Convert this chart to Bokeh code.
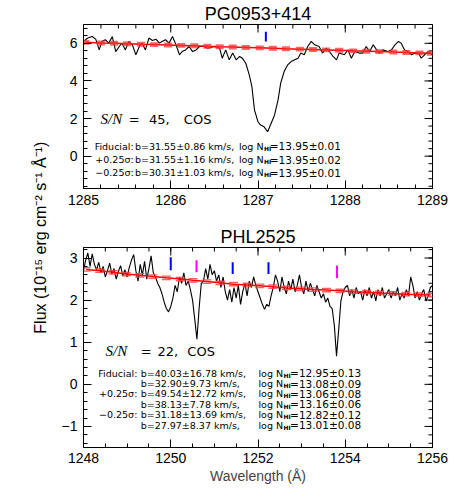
import math
from bokeh.plotting import figure
from bokeh.layouts import column, row
from bokeh.models import Range1d, SingleIntervalTicker, Label, ColumnDataSource
from bokeh.embed import file_html
from bokeh.resources import INLINE
from bokeh.core.properties import value

FONT = "Liberation Sans"
TFONT = "DejaVu Sans"

# ---------------- PG0953+414 (top panel) ----------------
title1 = "PG0953+414"
wave1 = [1285.00,1285.05,1285.10,1285.14,1285.18,1285.21,1285.25,1285.29,1285.33,1285.37,
         1285.41,1285.44,1285.48,1285.52,1285.56,1285.60,1285.64,1285.67,1285.71,1285.75,
         1285.79,1285.83,1285.87,1285.90,1285.94,1285.98,1286.02,1286.06,1286.10,1286.13,
         1286.17,1286.21,1286.25,1286.29,1286.33,1286.38,1286.42,1286.50,1286.56,1286.59,
         1286.63,1286.67,1286.71,1286.75,1286.79,1286.82,1286.86,1286.90,1286.93,1286.96,
         1287.00,1287.03,1287.07,1287.11,1287.15,1287.19,1287.23,1287.26,1287.30,1287.34,
         1287.38,1287.42,1287.46,1287.49,1287.53,1287.57,1287.61,1287.65,1287.70,1287.74,
         1287.78,1287.82,1287.86,1287.90,1287.93,1287.99,1288.03,1288.07,1288.11,1288.16,
         1288.20,1288.24,1288.28,1288.32,1288.36,1288.39,1288.43,1288.49,1288.53,1288.57,
         1288.61,1288.64,1288.68,1288.72,1288.76,1288.80,1288.84,1288.87,1288.91,1288.95,
         1289.00]
flux1 = [6.10,6.28,6.36,6.22,5.65,6.10,6.19,6.01,6.36,5.56,
         5.83,6.01,5.65,6.10,5.92,5.39,5.83,6.01,5.65,6.28,
         6.15,6.22,6.01,6.10,6.19,6.01,6.36,5.92,5.39,5.56,
         5.65,5.83,5.56,5.65,5.83,5.83,5.74,5.83,5.74,5.21,
         5.65,5.12,5.48,5.12,5.30,5.21,4.94,4.32,3.70,2.45,
         1.83,1.65,1.56,1.30,1.74,2.19,2.99,3.88,4.50,4.85,
         5.03,5.12,5.21,5.48,5.39,5.83,6.10,5.92,5.83,5.48,
         5.74,5.56,5.30,5.12,5.48,5.39,5.65,5.21,5.56,5.48,
         5.48,5.83,5.56,5.92,5.65,5.48,5.65,5.56,5.65,5.92,
         6.10,6.01,5.65,5.56,5.39,5.48,5.48,5.21,5.39,5.56,
         5.39]
cont1_wave = [1285.02,1285.20,1285.35,1285.50,1285.66,1285.81,1285.97,1286.12,1286.27,1286.42,
              1286.56,1286.71,1286.86,1287.02,1287.17,1287.32,1287.48,1287.63,1287.78,1287.93,
              1288.09,1288.24,1288.39,1288.55,1288.70,1288.85,1288.98]
cont1_flux = [6.05,6.02,6.00,5.98,5.95,5.93,5.91,5.89,5.87,5.84,
              5.82,5.80,5.78,5.76,5.74,5.71,5.69,5.67,5.65,5.63,
              5.60,5.58,5.56,5.54,5.51,5.49,5.47]
cont1_err = 0.13
lines1_wave = [1287.09]
lines1_lo = [6.10]
lines1_hi = [6.62]
lines1_color = ["#0000ff"]
sn1 = "45,"
rows1_label = ["Fiducial:", "+0.25\u03c3:", "\u22120.25\u03c3:"]
rows1_b = ["b=31.55\u00b10.86 km/s,", "b=31.55\u00b11.16 km/s,", "b=30.31\u00b11.03 km/s,"]
rows1_N = ["=13.95\u00b10.01", "=13.95\u00b10.02", "=13.95\u00b10.01"]
rows1_y = [0.53, -0.18, -0.89]
xticks1 = [1285, 1286, 1287, 1288, 1289]
yticks1 = [0, 2, 4, 6]

# ---------------- PHL2525 (bottom panel) ----------------
title2 = "PHL2525"
wave2 = [1248.00,1248.05,1248.10,1248.15,1248.20,1248.25,1248.30,1248.35,1248.40,1248.45,
         1248.50,1248.55,1248.60,1248.65,1248.70,1248.75,1248.80,1248.85,1248.90,1248.95,
         1249.00,1249.05,1249.10,1249.15,1249.20,1249.25,1249.30,1249.35,1249.40,1249.45,
         1249.50,1249.55,1249.60,1249.65,1249.70,1249.75,1249.80,1249.85,1249.90,1249.95,
         1250.00,1250.05,1250.10,1250.15,1250.20,1250.25,1250.30,1250.35,1250.40,1250.45,
         1250.50,1250.55,1250.60,1250.65,1250.70,1250.75,1250.80,1250.85,1250.90,1250.95,
         1251.00,1251.05,1251.10,1251.15,1251.20,1251.25,1251.30,1251.35,1251.40,1251.45,
         1251.50,1251.55,1251.60,1251.65,1251.70,1251.75,1251.80,1251.85,1251.90,1251.95,
         1252.00,1252.05,1252.10,1252.15,1252.20,1252.25,1252.30,1252.35,1252.40,1252.45,
         1252.50,1252.55,1252.60,1252.65,1252.70,1252.75,1252.80,1252.85,1252.90,1252.95,
         1253.00,1253.05,1253.10,1253.15,1253.20,1253.25,1253.30,1253.35,1253.40,1253.45,
         1253.50,1253.55,1253.60,1253.65,1253.70,1253.75,1253.80,1253.85,1253.90,1253.95,
         1254.00,1254.05,1254.10,1254.15,1254.20,1254.25,1254.30,1254.35,1254.40,1254.45,
         1254.50,1254.55,1254.60,1254.65,1254.70,1254.75,1254.80,1254.85,1254.90,1254.95,
         1255.00,1255.05,1255.10,1255.15,1255.20,1255.25,1255.30,1255.35,1255.40,1255.45,
         1255.50,1255.55,1255.60,1255.65,1255.70,1255.75,1255.80,1255.85,1255.90,1255.95,
         1256.00]
flux2 = [2.70,2.95,3.12,2.80,3.10,2.85,2.72,2.90,2.65,2.80,2.55,2.70,2.88,2.62,2.75,2.50,2.68,2.82,2.58,2.72,
         2.55,2.78,2.95,3.08,2.70,2.45,2.85,2.60,2.92,2.50,2.75,3.05,2.65,2.55,2.40,2.30,2.15,1.95,1.80,1.72,
         1.85,2.05,2.35,2.20,2.55,2.40,2.65,2.35,2.45,2.25,2.00,1.55,1.07,1.80,2.40,2.45,2.75,2.50,2.85,2.60,
         2.70,2.45,2.60,2.30,2.55,2.20,2.00,2.25,1.95,2.30,2.05,2.35,1.90,2.20,2.40,2.10,2.45,2.30,2.55,2.35,
         2.20,2.05,1.90,1.78,1.90,1.85,2.10,2.30,2.60,2.45,2.20,2.55,2.30,2.15,2.45,2.25,2.50,2.20,2.35,2.60,
         2.30,2.15,2.45,2.20,2.40,2.25,2.10,2.35,2.20,2.05,2.15,1.95,2.05,1.85,1.80,1.40,0.67,1.30,1.98,2.20,
         2.30,2.35,2.10,2.25,2.05,2.30,2.15,2.20,2.00,2.25,2.10,2.30,2.05,2.20,1.98,2.25,2.10,2.30,2.05,2.15,
         2.25,2.05,2.20,2.10,2.30,2.00,2.15,2.05,2.25,2.10,2.55,2.35,2.05,2.20,2.00,2.15,2.25,1.98,2.10,2.30,
         2.35]
cont2_wave = [1248.06,1248.37,1248.68,1248.98,1249.29,1249.59,1249.90,1250.22,1250.51,1250.83,
              1251.13,1251.44,1251.75,1252.04,1252.34,1252.65,1252.96,1253.26,1253.57,1253.88,
              1254.18,1254.49,1254.78,1255.08,1255.39,1255.69,1255.96]
cont2_flux = [2.73,2.70,2.66,2.62,2.59,2.56,2.53,2.50,2.47,2.44,
              2.41,2.38,2.36,2.34,2.32,2.29,2.27,2.25,2.24,2.22,
              2.20,2.19,2.17,2.16,2.14,2.13,2.12]
cont2_err = 0.04
lines2_wave = [1250.00, 1250.59, 1251.42, 1252.24, 1253.81]
lines2_lo = [2.71, 2.66, 2.62, 2.62, 2.52]
lines2_hi = [3.02, 2.95, 2.90, 2.90, 2.82]
lines2_color = ["#0000ff", "#ff00ff", "#0000ff", "#0000ff", "#ff00ff"]
sn2 = "22,"
rows2_label = ["Fiducial:", "", "+0.25\u03c3:", "", "\u22120.25\u03c3:", ""]
rows2_b = ["b=40.03\u00b116.78 km/s,", "b=32.90\u00b19.73 km/s,", "b=49.54\u00b112.72 km/s,",
           "b=38.13\u00b17.78 km/s,", "b=31.18\u00b113.69 km/s,", "b=27.97\u00b18.37 km/s,"]
rows2_N = ["=12.95\u00b10.13", "=13.08\u00b10.09", "=13.06\u00b10.08",
           "=13.16\u00b10.06", "=12.82\u00b10.12", "=13.01\u00b10.08"]
rows2_y = [0.26, 0.015, -0.22, -0.476, -0.72, -0.97]
xticks2 = [1248, 1250, 1252, 1254, 1256]
yticks2 = [-1, 0, 1, 2, 3]

ylabel = "Flux (10\u207b\u00b9\u2075 erg cm\u207b\u00b2 s\u207b\u00b9 \u00c5\u207b\u00b9)"
xlabel = "Wavelength (\u00c5)"


def make_panel(title, xr, yr, xint, xminor, yint, yminor, height, mb_top, mb_bottom):
    p = figure(width=402, height=height, x_range=Range1d(*xr), y_range=Range1d(*yr),
               toolbar_location=None, output_backend="svg",
               min_border_left=30, min_border_right=23, min_border_top=mb_top, min_border_bottom=mb_bottom)
    p.title.text = title
    p.title.align = "center"
    p.title.text_font = FONT
    p.title.text_font_size = "18px"
    p.title.text_font_style = "normal"
    p.title.text_color = "black"
    p.title.standoff = 2
    p.xgrid.visible = False
    p.ygrid.visible = False
    p.outline_line_color = "black"
    p.outline_line_width = 1
    xt = SingleIntervalTicker(interval=xint, num_minor_ticks=xminor)
    yt = SingleIntervalTicker(interval=yint, num_minor_ticks=yminor)
    p.below[0].ticker = xt
    p.left[0].ticker = yt
    for ax in (p.below[0], p.left[0]):
        ax.axis_line_color = "black"
        ax.major_tick_line_color = "black"
        ax.minor_tick_line_color = "black"
        ax.major_tick_in = 8
        ax.major_tick_out = 0
        ax.minor_tick_in = 4
        ax.minor_tick_out = 0
        ax.major_label_text_font = FONT
        ax.major_label_text_font_size = "14px"
        ax.major_label_text_color = "black"
    p.below[0].major_label_standoff = 6
    p.left[0].major_label_standoff = 6
    return p


def mirror_ticks(p, xr, yr, xmajor, xstep, ymajor, ystep):
    # ticks on the top and right frame edges (half of each dash is clipped by the frame)
    xmin_ticks = [round(xmajor[0] + xstep * k, 3) for k in range(int(round((xmajor[-1] - xmajor[0]) / xstep)) + 1)]
    y0 = ymajor[0]
    ymin_ticks = [round(y0 + ystep * k, 3) for k in range(-20, 60) if yr[0] < y0 + ystep * k < yr[1]]
    p.dash(x=xmajor, y=[yr[1]] * len(xmajor), angle=math.pi / 2, size=16, line_color="black", line_width=1)
    p.dash(x=xmin_ticks, y=[yr[1]] * len(xmin_ticks), angle=math.pi / 2, size=8, line_color="black", line_width=1)
    p.dash(x=[xr[1]] * len(ymajor), y=ymajor, angle=0, size=16, line_color="black", line_width=1)
    p.dash(x=[xr[1]] * len(ymin_ticks), y=ymin_ticks, angle=0, size=8, line_color="black", line_width=1)


def add_text(p, x, y, text, size="9.5px", align="left", font=TFONT, style="normal"):
    src = ColumnDataSource(dict(x=x, y=y, t=text))
    p.text(x="x", y="y", text="t", source=src, text_font=value(font), text_font_size=size,
           text_align=align, text_baseline="middle", text_color="black", text_font_style=style)


# ---- top panel
xr1, yr1 = (1285, 1289), (-1.72, 7.0)
p1 = make_panel(title1, xr1, yr1, 1, 5, 2, 5, 220, 24, 32)
mirror_ticks(p1, xr1, yr1, xticks1, 0.2, yticks1, 0.4)
p1.line(wave1, flux1, color="black", line_width=1.1)
p1.line(cont1_wave, cont1_flux, color="#ff0000", line_width=1.5)
p1.rect(x=cont1_wave, y=cont1_flux, width=8, height=2 * cont1_err, width_units="screen",
        fill_color="#ff3030", fill_alpha=0.75, line_color=None)
p1.segment(x0=lines1_wave, y0=lines1_lo, x1=lines1_wave, y1=lines1_hi, color=lines1_color, line_width=2)
n1 = len(rows1_y)
add_text(p1, [1285.575] * n1, rows1_y, rows1_label, align="right")
add_text(p1, [1285.59] * n1, rows1_y, rows1_b)
add_text(p1, [1287.063] * n1, rows1_y, ["log N"] * n1, align="right")
add_text(p1, [1287.069] * n1, [y - 0.11 for y in rows1_y], ["HI"] * n1, size="6px", style="bold")
add_text(p1, [1287.135] * n1, rows1_y, rows1_N, size="10.5px")
add_text(p1, [1285.195], [1.97], ["S/N"], size="15px", font="Liberation Serif", style="italic")
add_text(p1, [1285.52], [1.97], ["="], size="13px")
add_text(p1, [1285.75], [1.97], [sn1], size="13px")
add_text(p1, [1286.15], [1.97], ["COS"], size="13px")

# ---- bottom panel
xr2, yr2 = (1248, 1256), (-1.5, 3.25)
p2 = make_panel(title2, xr2, yr2, 2, 4, 1, 5, 269, 27, 42)
mirror_ticks(p2, xr2, yr2, xticks2, 0.5, yticks2, 0.2)
p2.below[0].major_label_standoff = 5
p2.below[0].axis_label = xlabel
p2.below[0].axis_label_text_font = FONT
p2.below[0].axis_label_text_font_size = "14px"
p2.below[0].axis_label_text_font_style = "normal"
p2.below[0].axis_label_standoff = 2
p2.line(wave2, flux2, color="black", line_width=1.1)
p2.line(cont2_wave, cont2_flux, color="#ff0000", line_width=1.5)
p2.dash(x=cont2_wave, y=[c + cont2_err for c in cont2_flux], size=9, line_color="#ff4040",
        line_alpha=0.85, line_width=1.4)
p2.dash(x=cont2_wave, y=[c - cont2_err for c in cont2_flux], size=9, line_color="#ff4040",
        line_alpha=0.85, line_width=1.4)
p2.segment(x0=lines2_wave, y0=lines2_lo, x1=lines2_wave, y1=lines2_hi, color=lines2_color, line_width=2)
n2 = len(rows2_y)
add_text(p2, [1249.234] * n2, rows2_y, rows2_label, align="right")
add_text(p2, [1249.31] * n2, rows2_y, rows2_b)
add_text(p2, [1252.575] * n2, rows2_y, ["log N"] * n2, align="right")
add_text(p2, [1252.586] * n2, [y - 0.05 for y in rows2_y], ["HI"] * n2, size="6px", style="bold")
add_text(p2, [1252.736] * n2, rows2_y, rows2_N, size="10.5px")
add_text(p2, [1248.506], [0.79], ["S/N"], size="15px", font="Liberation Serif", style="italic")
add_text(p2, [1249.31], [0.79], ["="], size="13px")
add_text(p2, [1249.694], [0.79], [sn2], size="13px")
add_text(p2, [1250.38], [0.79], ["COS"], size="13px")

# ---- shared y label
H = 220 + 269
lab = figure(width=53, height=H, x_range=Range1d(0, 1), y_range=Range1d(0, 1),
             toolbar_location=None, output_backend="svg", x_axis_location=None, y_axis_location=None,
             min_border=0)
lab.outline_line_color = None
lab.xgrid.visible = False
lab.ygrid.visible = False
lab.add_layout(Label(x=0.75, y=0.515, text=ylabel, angle=math.pi / 2, text_align="center",
                     text_baseline="middle", text_font=FONT, text_font_size="16px", text_color="black"))

layout = row(lab, column(p1, p2, spacing=0), spacing=0)
open("out.html", "w").write(file_html(layout, INLINE))
